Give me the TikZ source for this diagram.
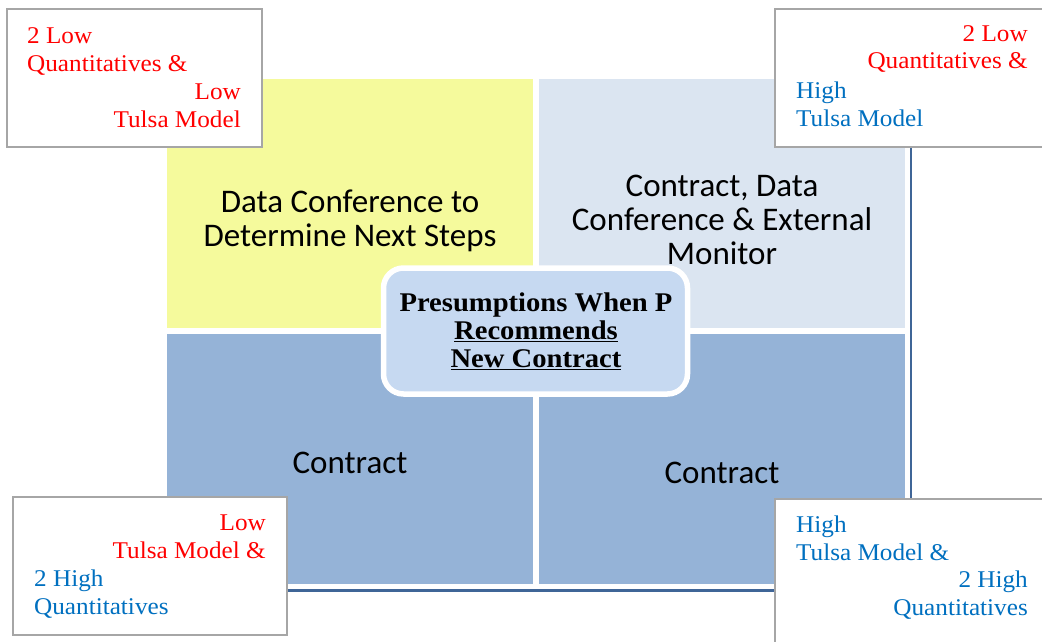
\documentclass[tikz,border=0pt]{standalone}
\usepackage{fontspec}
\setmainfont{Liberation Serif}
\newfontfamily\calibri{Carlito}
\newfontfamily\cornerfont[FakeStretch=1.05]{Liberation Serif}
\newfontfamily\hubfont[FakeStretch=1.06]{Liberation Serif}
\usepackage{tikz}
\definecolor{lowred}{HTML}{FF0000}
\definecolor{highblue}{HTML}{0070C0}
\definecolor{quadyellow}{HTML}{F5FA9C}
\definecolor{quadpale}{HTML}{DBE5F1}
\definecolor{quadblue}{HTML}{95B3D7}
\definecolor{hubfill}{HTML}{C6D9F1}
\definecolor{framegray}{HTML}{A6A6A6}
\definecolor{framenavy}{HTML}{3F6597}
\tikzset{
	quadtext/.style={font={\calibri\fontsize{33}{34}\selectfont}, align=center},
	cornertext/.style={font={\cornerfont\fontsize{24}{28}\selectfont}, inner sep=0pt},
	cornerframe/.style={draw=framegray, line width=2pt, fill=white}
}
\newcommand{\cornerbox}[4] % x1, y1, x2, y2 in px
{
	% white box with gray frame
	\draw[cornerframe] (#1,#2) rectangle (#3,#4);
}

\begin{document}
\begin{tikzpicture}[x=1pt, y=-1pt]
	% 1042px x 642px
	\useasboundingbox (0,0) rectangle (1042,642);
	% navy frame line under the quadrants
	\draw[framenavy, line width=2.5pt] (911,79) -- (911,590.5) -- (167,590.5);
	% quadrants
	\fill[quadyellow] (167,79) rectangle (533,328);
	\fill[quadpale] (539,79) rectangle (905,328);
	\fill[quadblue] (167,334) rectangle (533,584);
	\fill[quadblue] (539,334) rectangle (905,584);
	\node[quadtext] (steps) at (350,221) {Data Conference to\\Determine Next Steps};
	\node[quadtext] (monitor) at (722,220) {Contract, Data\\Conference \& External\\Monitor};
	\node[quadtext] (contractL) at (350,463) {Contract};
	\node[quadtext] (contractR) at (722,473) {Contract};
	% centre box
	\draw[fill=hubfill, draw=white, line width=5.5pt, rounded corners=20pt] (383.5,268) rectangle (687.5,394);
	\node[font={\hubfont\bfseries\fontsize{27}{28}\selectfont}, align=center] (hub) at (536,331)
		{Presumptions When P\\\underline{Recommends}\\\underline{New Contract}};
	% upper left
	\cornerbox{7}{9}{262}{147};
	\node[cornertext, text=lowred, anchor=base west, align=left] (ulQuant) at (27,71) {2 Low\\Quantitatives \&};
	\node[cornertext, text=lowred, anchor=base east, align=right] (ulTulsa) at (241,127) {Low\\Tulsa Model};
	% upper right
	\cornerbox{775}{9}{1060}{147};
	\node[cornertext, text=lowred, anchor=base east, align=right] (urQuant) at (1028,69) {2 Low\\Quantitatives \&};
	\node[cornertext, text=highblue, anchor=base west, align=left] (urTulsa) at (796,126) {High\\Tulsa Model};
	% lower left
	\cornerbox{13}{497}{287}{635};
	\node[cornertext, text=lowred, anchor=base east, align=right] (llTulsa) at (266,558) {Low\\Tulsa Model \&};
	\node[cornertext, text=highblue, anchor=base west, align=left] (llQuant) at (34,614) {2 High\\Quantitatives};
	% lower right
	\cornerbox{775}{499}{1060}{660};
	\node[cornertext, text=highblue, anchor=base west, align=left] (lrTulsa) at (796,560) {High\\Tulsa Model \&};
	\node[cornertext, text=highblue, anchor=base east, align=right] (lrQuant) at (1028,615) {2 High\\Quantitatives};
\end{tikzpicture}
\end{document}
